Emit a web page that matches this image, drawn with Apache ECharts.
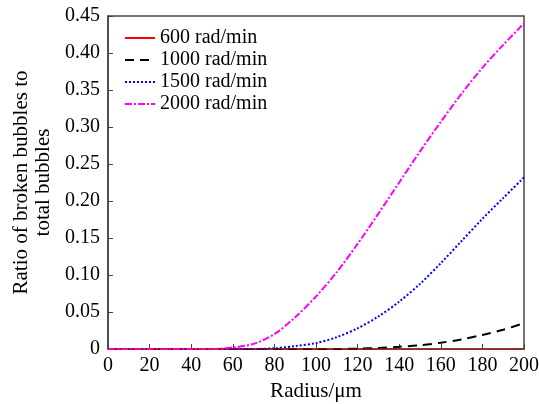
<!DOCTYPE html>
<html><head><meta charset="utf-8">
<script src="https://cdn.jsdelivr.net/npm/echarts@6/dist/echarts.min.js"></script>
<style>html,body{margin:0;padding:0;background:#fff}#c{width:539px;height:404px}</style>
</head><body><div id="c"></div>
<script>
const radius = [0,10,20,30,40,50,60,70,80,90,100,110,120,130,140,150,160,170,180,190,200];
const s600  = [0,0,0,0,0,0,0,0,0,0,0,0,0,0,0,0,0,0,0,0,0];
const s1000 = [0,0,0,0,0,0,0,0,0,0,0,0,0.0005,0.0015,0.003,0.005,0.0085,0.013,0.019,0.026,0.035];
const s1500 = [0,0,0,0,0,0,0,0,0.001,0.004,0.008,0.016,0.028,0.044,0.064,0.088,0.116,0.146,0.176,0.204,0.232];
const s2000 = [0,0,0,0,0,0,0.002,0.007,0.020,0.043,0.071,0.104,0.142,0.183,0.225,0.267,0.307,0.345,0.380,0.411,0.440];
const names = ['600 rad/min','1000 rad/min','1500 rad/min','2000 rad/min'];
const xTicks = [0,20,40,60,80,100,120,140,160,180,200];
const yTicks = [0,0.05,0.10,0.15,0.20,0.25,0.30,0.35,0.40,0.45];

const FONT = 'Liberation Serif';
const FS = 20;
const pair = a => radius.map((x,i)=>[x,a[i]]);
const chart = echarts.init(document.getElementById('c'));
chart.setOption({
  animation:false,
  textStyle:{fontFamily:FONT},
  grid:{left:108,right:15,top:16,bottom:55,containLabel:false,outerBoundsMode:'none',
    show:true,borderColor:'#444',borderWidth:1.5,backgroundColor:'transparent'},
  legend:{
    orient:'vertical',left:119,top:23,itemWidth:30,itemHeight:12,itemGap:2,
    itemStyle:{opacity:0,borderWidth:0},
    textStyle:{fontFamily:FONT,fontSize:FS,color:'#000',lineHeight:20},
    data:names
  },
  xAxis:{
    type:'value',min:xTicks[0],max:xTicks[xTicks.length-1],interval:20,
    name:'Radius/μm',nameLocation:'middle',nameGap:32,
    nameTextStyle:{fontFamily:FONT,fontSize:21,color:'#000'},
    axisLine:{show:true,lineStyle:{color:'#444',width:1.5}},
    axisTick:{show:true,inside:true,length:5,lineStyle:{color:'#444',width:1}},
    axisLabel:{fontFamily:FONT,fontSize:FS,color:'#000',margin:7},
    splitLine:{show:false}
  },
  yAxis:{
    type:'value',min:yTicks[0],max:yTicks[yTicks.length-1],interval:0.05,
    name:'Ratio of broken bubbles to\ntotal bubbles',nameLocation:'middle',nameGap:53,
    nameTextStyle:{fontFamily:FONT,fontSize:21,color:'#000',lineHeight:22},
    axisLine:{show:true,lineStyle:{color:'#444',width:1.5}},
    axisTick:{show:true,inside:true,length:5,lineStyle:{color:'#444',width:1}},
    axisLabel:{fontFamily:FONT,fontSize:FS,color:'#000',margin:8,
      formatter:v=>v===0?'0':v.toFixed(2)},
    splitLine:{show:false}
  },
  series:[
    {name:names[0],type:'line',data:pair(s600),symbol:'none',z:5,
      lineStyle:{color:'#ff0000',width:1.2,type:'solid'},itemStyle:{color:'#ff0000'}},
    {name:names[1],type:'line',data:pair(s1000),symbol:'none',smooth:0.3,z:3,
      lineStyle:{color:'#000000',width:2,type:[9,6]},itemStyle:{color:'#000000'}},
    {name:names[2],type:'line',data:pair(s1500),symbol:'none',smooth:0.3,z:3,
      lineStyle:{color:'#0000ff',width:2,type:[2,2]},itemStyle:{color:'#0000ff'}},
    {name:names[3],type:'line',data:pair(s2000),symbol:'none',smooth:0.3,z:3,
      lineStyle:{color:'#ff00ff',width:2,type:[7,2,2,2]},itemStyle:{color:'#ff00ff'}}
  ]
});
</script></body></html>
